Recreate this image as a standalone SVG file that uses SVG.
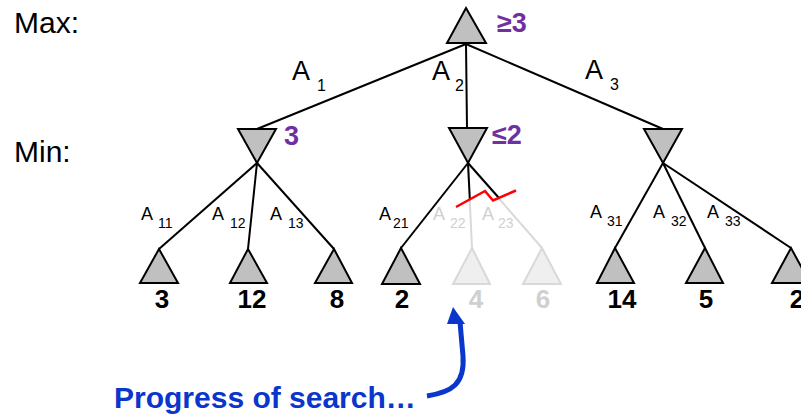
<svg xmlns="http://www.w3.org/2000/svg" width="801" height="420" viewBox="0 0 801 420">
<defs>
<style>
.lbl{font-family:"Liberation Sans",Arial,sans-serif;fill:#000}
.big{font-size:30px}
.a1{font-size:27px}
.s1{font-size:16px}
.a2{font-size:18px}
.s2{font-size:14px}
.num{font-family:"Liberation Sans",Arial,sans-serif;font-weight:bold;font-size:26px;text-anchor:middle;fill:#000}
.val{font-family:"Liberation Sans",Arial,sans-serif;font-weight:bold;font-size:27px;fill:#7030a0}
.node{fill:#c0c0c0;stroke:#000;stroke-width:2;stroke-linejoin:miter}
.ghost{fill:#efefef;stroke:#d9d9d9;stroke-width:2}
.edge{stroke:#000;stroke-width:2;fill:none}
.gedge{stroke:#d9d9d9;stroke-width:2;fill:none}
.gtxt{fill:#d0d0d0}
</style>
</defs>
<rect width="801" height="420" fill="#fff"/>

<text class="lbl big" x="14" y="33">Max:</text>
<text class="lbl big" x="14" y="162">Min:</text>

<g id="connectors">
<line class="edge" x1="466" y1="44" x2="257" y2="129"/>
<line class="edge" x1="466" y1="44" x2="467" y2="128"/>
<line class="edge" x1="466" y1="44" x2="663" y2="129"/>
<line class="edge" x1="257" y1="163" x2="159" y2="249"/>
<line class="edge" x1="257" y1="163" x2="248" y2="249"/>
<line class="edge" x1="257" y1="163" x2="334" y2="249"/>
<line class="edge" x1="468" y1="163" x2="401" y2="248"/>
<line class="gedge" x1="468" y1="163" x2="472" y2="248"/>
<line class="gedge" x1="468" y1="163" x2="542" y2="248"/>
<line class="edge" x1="468" y1="163" x2="469.8" y2="199"/>
<line class="edge" x1="468" y1="163" x2="499" y2="198"/>
<line class="edge" x1="663" y1="163" x2="615" y2="248"/>
<line class="edge" x1="663" y1="163" x2="705" y2="248"/>
<line class="edge" x1="663" y1="163" x2="791" y2="248"/>
<polyline points="456,207 485,191 493,200.5 516,190.5" fill="none" stroke="#ff0000" stroke-width="2.5"/>
<path d="M427,396 C452,392 465,384 463,356 L460,322" fill="none" stroke="#0a36cc" stroke-width="5" stroke-linecap="butt"/>
<polygon points="453,307 465,324 447,324" fill="#0a36cc"/>
</g>

<g id="labels">
<text class="lbl a1" x="292" y="80">A</text><text class="lbl s1" x="317" y="91">1</text>
<text class="lbl a1" x="432" y="80">A</text><text class="lbl s1" x="455" y="91">2</text>
<text class="lbl a1" x="585" y="79">A</text><text class="lbl s1" x="610" y="90">3</text>
<text class="lbl a2" x="141" y="220">A</text><text class="lbl s2" x="158" y="228">11</text>
<text class="lbl a2" x="212" y="220">A</text><text class="lbl s2" x="230" y="228">12</text>
<text class="lbl a2" x="270" y="220">A</text><text class="lbl s2" x="288" y="228">13</text>
<text class="lbl a2" x="379" y="220">A</text><text class="lbl s2" x="393" y="228">21</text>
<text class="lbl a2 gtxt" x="433" y="220">A</text><text class="lbl s2 gtxt" x="450" y="228">22</text>
<text class="lbl a2 gtxt" x="482" y="220">A</text><text class="lbl s2 gtxt" x="498" y="228">23</text>
<text class="lbl a2" x="590" y="218">A</text><text class="lbl s2" x="607" y="226">31</text>
<text class="lbl a2" x="653" y="218">A</text><text class="lbl s2" x="671" y="226">32</text>
<text class="lbl a2" x="707" y="218">A</text><text class="lbl s2" x="725" y="226">33</text>
</g>

<g id="root"><polygon class="node" points="466,8 486,43 447,43"/><text class="val" x="497" y="32">≥3</text></g>
<g id="min1"><polygon class="node" points="238,129 276,129 257,163"/><text class="val" x="284" y="145">3</text></g>
<g id="min2"><polygon class="node" points="449,128 487,128 468,163"/><text class="val" x="492" y="144">≤2</text></g>
<g id="min3"><polygon class="node" points="644,129 682,129 663,163"/></g>

<g id="leaf11"><polygon class="node" points="159,249 178,283 140,283"/><text class="num" x="162" y="308">3</text></g>
<g id="leaf12"><polygon class="node" points="248,249 267,283 230,283"/><text class="num" x="252" y="308">12</text></g>
<g id="leaf13"><polygon class="node" points="334,249 352,283 315,283"/><text class="num" x="337" y="308">8</text></g>
<g id="leaf21"><polygon class="node" points="401,248 420,284 382,284"/><text class="num" x="402" y="308">2</text></g>
<g id="leaf22"><polygon class="ghost" points="472,248 490,284 453,284"/><text class="num gtxt" x="476" y="308">4</text></g>
<g id="leaf23"><polygon class="ghost" points="542,248 561,284 523,284"/><text class="num gtxt" x="543" y="308">6</text></g>
<g id="leaf31"><polygon class="node" points="615,248 634,283 597,283"/><text class="num" x="622" y="308">14</text></g>
<g id="leaf32"><polygon class="node" points="705,248 723,283 686,283"/><text class="num" x="706" y="308">5</text></g>
<g id="leaf33"><polygon class="node" points="791,248 810,283 772,283"/><text class="num" x="797" y="308">2</text></g>

<text x="114" y="408" font-family="'Liberation Sans',Arial,sans-serif" font-weight="bold" font-size="30" fill="#0a36cc">Progress of search…</text>
</svg>
